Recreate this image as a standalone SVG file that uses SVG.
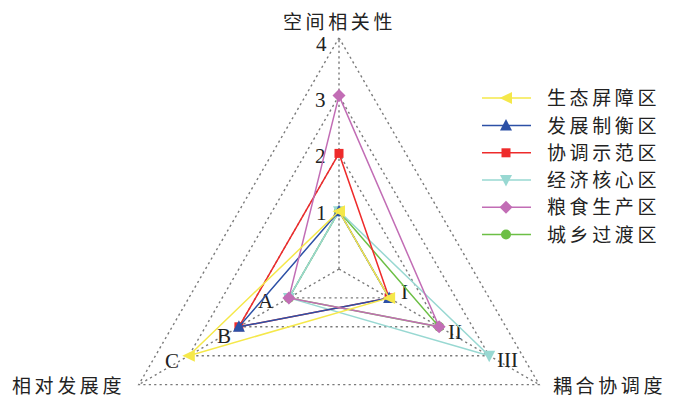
<svg xmlns="http://www.w3.org/2000/svg" width="684" height="397" viewBox="0 0 684 397">
<style>
.grid{fill:none;stroke:#7a7a7a;stroke-width:1.4;stroke-dasharray:2.2 3.2}
.s{fill:none;stroke-width:1.5;stroke-linejoin:miter}
.cn{font-family:"Noto Sans CJK SC",sans-serif;font-size:19px;fill:#222;letter-spacing:3.6px}
.num{font-family:"Liberation Serif",serif;font-size:21px;fill:#222}
.yl{stroke:#f5e84a}.bl{stroke:#2c50a6}.rd{stroke:#ee2b2b}.cy{stroke:#98d8d2}.pu{stroke:#c26db5}.gr{stroke:#6cbf45}
</style>
<defs>
<marker id="mY" markerUnits="userSpaceOnUse" viewBox="-8 -8 16 16" markerWidth="16" markerHeight="16" refX="0" refY="0" overflow="visible"><polygon points="-6.5,0 6,-6 6,6" fill="#f5e84a"/></marker>
<marker id="mB" markerUnits="userSpaceOnUse" viewBox="-8 -8 16 16" markerWidth="16" markerHeight="16" refX="0" refY="0" overflow="visible"><polygon points="0,-6.5 6,5 -6,5" fill="#2c50a6"/></marker>
<marker id="mR" markerUnits="userSpaceOnUse" viewBox="-8 -8 16 16" markerWidth="16" markerHeight="16" refX="0" refY="0" overflow="visible"><rect x="-4.5" y="-4.5" width="9" height="9" fill="#ee2b2b"/></marker>
<marker id="mC" markerUnits="userSpaceOnUse" viewBox="-8 -8 16 16" markerWidth="16" markerHeight="16" refX="0" refY="0" overflow="visible"><polygon points="-6,-5 6,-5 0,6.5" fill="#98d8d2"/></marker>
<marker id="mP" markerUnits="userSpaceOnUse" viewBox="-8 -8 16 16" markerWidth="16" markerHeight="16" refX="0" refY="0" overflow="visible"><polygon points="0,-6.5 6.5,0 0,6.5 -6.5,0" fill="#c26db5"/></marker>
<marker id="mG" markerUnits="userSpaceOnUse" viewBox="-8 -8 16 16" markerWidth="16" markerHeight="16" refX="0" refY="0" overflow="visible"><circle r="5" fill="#6cbf45"/></marker>
</defs>
<rect width="684" height="397" fill="#fff"/>
<g id="grid">
<path class="grid" d="M339,269 L339,37.8 M339,269 L138.8,384.6 M339,269 L539.2,384.6"/>
<path class="grid" d="M339,211.2 L288.9,297.9 L389.1,297.9 Z"/>
<path class="grid" d="M339,153.4 L238.9,326.8 L439.1,326.8 Z"/>
<path class="grid" d="M339,95.6 L188.8,355.7 L489.2,355.7 Z"/>
<path class="grid" d="M339,37.8 L138.8,384.6 L539.2,384.6 Z"/>
</g>
<g id="axis-labels">
<text class="cn" x="283" y="28.5">空间相关性</text>
<text class="cn" x="12" y="393">相对发展度</text>
<text class="cn" x="553" y="393">耦合协调度</text>
<text class="num" x="316" y="51">4</text>
<text class="num" x="315" y="107">3</text>
<text class="num" x="315" y="163">2</text>
<text class="num" x="316" y="220">1</text>
<text class="num" x="258" y="308">A</text>
<text class="num" x="217" y="343">B</text>
<text class="num" x="165" y="368">C</text>
<text class="num" x="401" y="299">I</text>
<text class="num" x="448" y="339">II</text>
<text class="num" x="497" y="367">III</text>
</g>
<g id="connectors">
<path class="s gr" d="M339,211.2 L288.9,297.9 L439.1,326.8 Z" marker-start="url(#mG)" marker-mid="url(#mG)"/>
<path class="s cy" d="M339,211.2 L288.9,297.9 L489.2,355.7 Z" marker-start="url(#mC)" marker-mid="url(#mC)"/>
<path class="s rd" d="M339,153.4 L238.9,326.8 L389.1,297.9 Z" marker-start="url(#mR)" marker-mid="url(#mR)"/>
<path class="s bl" d="M339,211.2 L238.9,326.8 L389.1,297.9 Z" marker-start="url(#mB)" marker-mid="url(#mB)"/>
<path class="s pu" d="M339,95.6 L288.9,297.9 L439.1,326.8 Z" marker-start="url(#mP)" marker-mid="url(#mP)"/>
<path class="s yl" d="M339,211.2 L188.8,355.7 L389.1,297.9 Z" marker-start="url(#mY)" marker-mid="url(#mY)"/>
</g>
<g id="legend">
<g id="leg-1"><path class="s yl" d="M482,98 L506,98 L531,98" marker-mid="url(#mY)"/><text class="cn" x="547" y="105">生态屏障区</text></g>
<g id="leg-2"><path class="s bl" d="M482,125.5 L506,125.5 L531,125.5" marker-mid="url(#mB)"/><text class="cn" x="547" y="132.5">发展制衡区</text></g>
<g id="leg-3"><path class="s rd" d="M482,152.8 L506,152.8 L531,152.8" marker-mid="url(#mR)"/><text class="cn" x="547" y="159.8">协调示范区</text></g>
<g id="leg-4"><path class="s cy" d="M482,180 L506,180 L531,180" marker-mid="url(#mC)"/><text class="cn" x="547" y="187">经济核心区</text></g>
<g id="leg-5"><path class="s pu" d="M482,207.3 L506,207.3 L531,207.3" marker-mid="url(#mP)"/><text class="cn" x="547" y="214.3">粮食生产区</text></g>
<g id="leg-6"><path class="s gr" d="M482,234.5 L506,234.5 L531,234.5" marker-mid="url(#mG)"/><text class="cn" x="547" y="241.5">城乡过渡区</text></g>
</g>
</svg>
